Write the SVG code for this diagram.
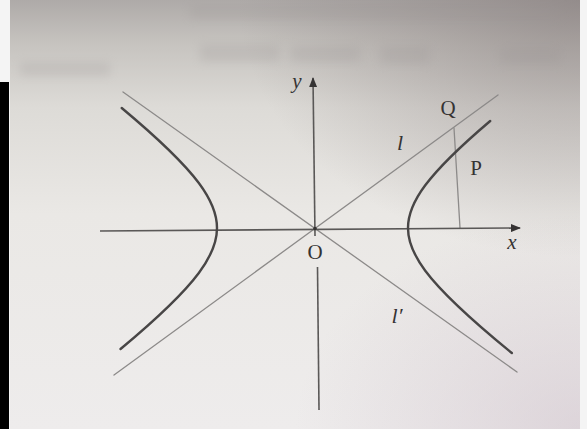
<svg xmlns="http://www.w3.org/2000/svg" width="587" height="429" viewBox="0 0 587 429">
  <style>
    .asym { stroke: #8c8a89; stroke-width: 1.3; fill: none; stroke-linecap: round; }
    .curve { stroke: #484646; stroke-width: 2.4; fill: none; stroke-linecap: round; }
    .axis { stroke: #5a5857; stroke-width: 1.6; fill: none; }
    .lbl { font-family: "Liberation Serif", "DejaVu Serif", serif; fill: #353333; }
    .it { font-style: italic; }
  </style>
  <defs>
    <linearGradient id="paper" x1="0" y1="0" x2="0" y2="1">
      <stop offset="0" stop-color="#aeaaa8"/>
      <stop offset="0.1" stop-color="#c6c3bf"/>
      <stop offset="0.25" stop-color="#dddbd7"/>
      <stop offset="0.5" stop-color="#eae8e5"/>
      <stop offset="1" stop-color="#eeecec"/>
    </linearGradient>
    <radialGradient id="corner" cx="1" cy="0" r="0.6">
      <stop offset="0" stop-color="#7e7474" stop-opacity="0.55"/>
      <stop offset="1" stop-color="#7e7474" stop-opacity="0"/>
    </radialGradient>
    <radialGradient id="corner2" cx="1" cy="1" r="0.5">
      <stop offset="0" stop-color="#c8b8c4" stop-opacity="0.45"/>
      <stop offset="1" stop-color="#c8b8c4" stop-opacity="0"/>
    </radialGradient>
    <filter id="blur" x="-30%" y="-80%" width="160%" height="260%">
      <feGaussianBlur stdDeviation="5"/>
    </filter>
    <marker id="arrow" viewBox="0 0 10 8" refX="9" refY="4" markerWidth="10" markerHeight="8" markerUnits="userSpaceOnUse" orient="auto">
      <path d="M0,0 L10,4 L0,8 Z" fill="#353333"/>
    </marker>
  </defs>

  <!-- paper -->
  <rect x="0" y="0" width="587" height="429" fill="#f4f4f4"/>
  <rect x="10" y="0" width="570" height="429" fill="url(#paper)"/>
  <rect x="10" y="0" width="570" height="429" fill="url(#corner)"/>
  <rect x="10" y="0" width="570" height="429" fill="url(#corner2)"/>
  <g filter="url(#blur)" fill="#9a9494" opacity="0.22">
    <rect x="190" y="5" width="370" height="14"/>
    <rect x="200" y="44" width="80" height="18"/>
    <rect x="290" y="46" width="70" height="16"/>
    <rect x="380" y="46" width="50" height="18"/>
    <rect x="500" y="48" width="60" height="16"/>
    <rect x="20" y="62" width="90" height="14"/>
  </g>
  <rect x="0" y="82" width="9" height="347" fill="#000"/>

  <g id="connectors">
    <line id="asym-l" class="asym" x1="114" y1="375" x2="498" y2="95"/>
    <line id="asym-lprime" class="asym" x1="123" y1="92" x2="517" y2="372"/>
    <line id="seg-QP" class="asym" x1="454" y1="128" x2="460" y2="228"/>
    <line id="x-axis" class="axis" x1="100" y1="231" x2="520" y2="228" marker-end="url(#arrow)"/>
    <line id="y-axis" class="axis" x1="315" y1="236" x2="313" y2="78" marker-end="url(#arrow)"/>
    <line id="y-axis-low" class="axis" x1="317.5" y1="267" x2="319" y2="410"/>
  </g>

  <g id="right-branch">
    <path class="curve" d="M490.2,121 C458.15,148.23 438.03,168.2 425.25,185.34 C413.41,201.23 408,214.6 408,228 C408,241.4 413.41,254.77 425.25,270.66 C440.68,291.36 466.64,316.04 511.86,353"/>
  </g>
  <g id="left-branch">
    <path class="curve" d="M121.73,108 C160.64,140.52 184.25,163.5 198.82,183.05 C211.3,199.79 217,213.88 217,228 C217,242.12 211.3,256.21 198.82,272.95 C184.1,292.7 160.18,315.95 120.54,349"/>
  </g>

  <g id="origin">
    <circle cx="315" cy="228.5" r="1.8" fill="#353333"/>
    <text class="lbl" x="315" y="259" font-size="21" text-anchor="middle">O</text>
  </g>
  <g id="label-y"><text class="lbl it" x="297" y="88" font-size="21" text-anchor="middle">y</text></g>
  <g id="label-x"><text class="lbl it" x="512" y="249" font-size="21" text-anchor="middle">x</text></g>
  <g id="point-Q"><text class="lbl" x="448" y="115" font-size="21" text-anchor="middle">Q</text></g>
  <g id="point-P"><text class="lbl" x="476" y="175" font-size="21" text-anchor="middle">P</text></g>
  <g id="label-l"><text class="lbl it" x="400" y="150" font-size="22" text-anchor="middle">l</text></g>
  <g id="label-lprime"><text class="lbl it" x="397" y="323" font-size="22" text-anchor="middle">l′</text></g>
</svg>
